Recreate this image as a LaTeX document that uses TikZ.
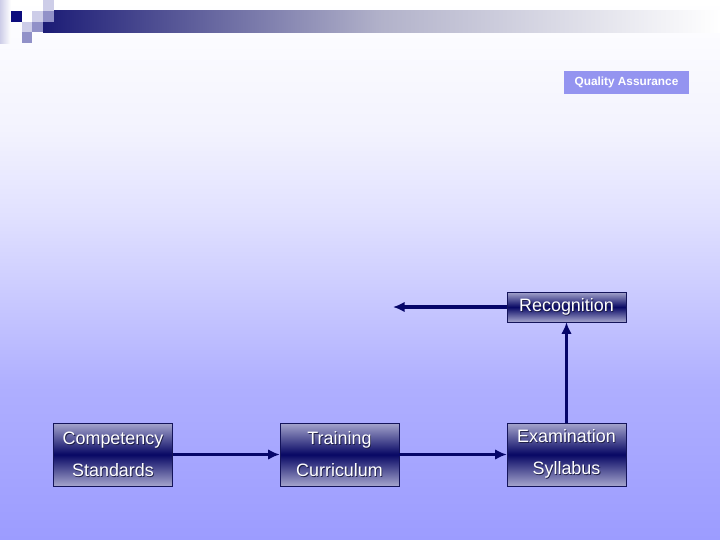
\documentclass[tikz,border=0pt]{standalone}
\usepackage{fontspec}
\setmainfont{Liberation Sans}
\usetikzlibrary{arrows.meta}

\definecolor{bgbottom}{RGB}{156,156,255}
\definecolor{bgc385}{RGB}{175,175,255}
\definecolor{bgc285}{RGB}{205,205,255}
\definecolor{bgc215}{RGB}{225,225,255}
\definecolor{bgc130}{RGB}{243,243,254}
\definecolor{sqdark}{RGB}{12,12,125}
\definecolor{sqmid}{RGB}{145,145,200}
\definecolor{sqlight}{RGB}{205,205,232}
\definecolor{bardark}{RGB}{28,28,118}
\definecolor{bargray}{RGB}{178,178,202}
\definecolor{qafill}{RGB}{148,148,240}
\definecolor{boxlight}{RGB}{165,165,205}
\definecolor{boxdark}{RGB}{8,8,100}
\definecolor{boxline}{RGB}{20,20,90}
\definecolor{flowblue}{RGB}{5,5,105}
\definecolor{shadowc}{RGB}{30,30,70}

% white text with a dark shadow:
\newcommand{\shd}[1]{\leavevmode\rlap{\kern0.8pt\raisebox{-0.8pt}{\textcolor{shadowc}{#1}}}#1}

\newlength{\pxu}
\setlength{\pxu}{0.3333mm}
\tikzset{
  stagebox/.style={draw=boxline, thin, top color=boxlight, bottom color=boxlight,
    middle color=boxdark, text=white, align=center, inner sep=0pt,
    minimum width=119\pxu, font=\fontsize{17}{30.2}\selectfont},
  flow/.style={draw=flowblue, line width=3.3pt, -{Latex[length=11pt,width=10pt]}}
}

\begin{document}
\begin{tikzpicture}[x=0.3333mm, y=-0.3333mm]
  \useasboundingbox (0,0) rectangle (720,540);
  % background, in bands from top to bottom:
  \foreach \ya/\yb/\ca/\cb in {0/130/white/bgc130, 129.5/215/bgc130/bgc215,
      214.5/285/bgc215/bgc285, 284.5/385/bgc285/bgc385, 384.5/540/bgc385/bgbottom}
    \fill[top color=\ca, bottom color=\cb] (0,\ya) rectangle (720,\yb);
  % title bar and squares:
  \fill[left color=sqlight, right color=white] (0,0) rectangle (10.8,43.2);
  \fill[left color=bardark, right color=white, middle color=bargray] (43.2,10.8) rectangle (720,32.4);
  \foreach \i/\j/\c in {1/1/sqdark, 2/1/white, 3/1/sqlight, 4/0/sqlight,
                        4/1/sqmid, 2/2/sqlight, 3/2/sqmid, 2/3/sqmid}
    \fill[\c] (\i*10.8,\j*10.8) rectangle ++(10.8,10.8);
  % label top right:
  \node[fill=qafill, text=white, minimum width=125\pxu, minimum height=23\pxu,
        inner sep=0pt, font=\fontsize{11.2}{13}\selectfont\bfseries] (qa) at (626.5,82.5) {Quality Assurance};
  % stages:
  \node[stagebox, minimum height=63\pxu] (comp) at (113,454.5) {\shd{Competency}\\\shd{Standards}};
  \node[stagebox, minimum height=63\pxu] (train) at (339.5,454.5) {\shd{Training}\\\shd{Curriculum}};
  \node[stagebox, minimum height=63\pxu] (exam) at (566.5,454.5) {\shd{Examination}\\\shd{Syllabus}};
  \node[stagebox, minimum height=30\pxu] (recog) at (566.5,307) {\shd{Recognition}};
  \coordinate (out) at (393,307);
  % connectors:
  \draw[flow] (comp) -- (train);
  \draw[flow] (train) -- (exam);
  \draw[flow] (exam) -- (recog);
  \draw[flow] (recog) -- (out);
\end{tikzpicture}
\end{document}
